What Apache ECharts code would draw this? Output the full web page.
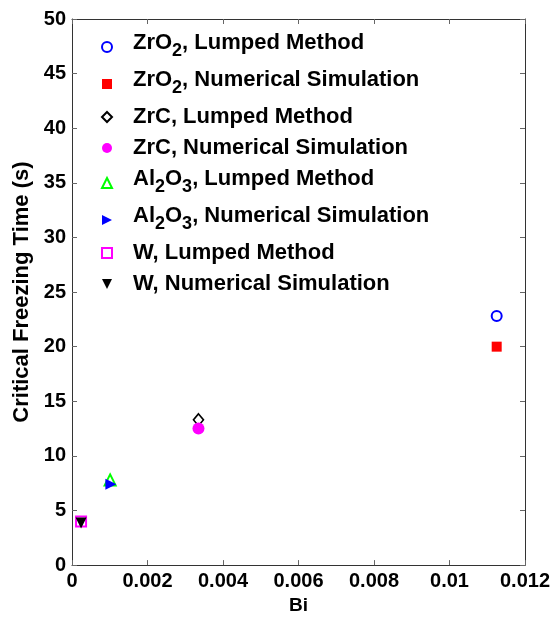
<!DOCTYPE html>
<html>
<head>
<meta charset="utf-8">
<script src="https://cdn.jsdelivr.net/npm/echarts@6/dist/echarts.min.js"></script>
<style>
  html, body { margin: 0; padding: 0; background: #fff; }
  #chart { width: 554px; height: 620px; }
</style>
</head>
<body>
<div id="chart"></div>
<script>
// series names (rich text for subscripts) and values [Bi, time]
const seriesNames = [
  '{g| }{b|ZrO}{s|2}{b|, Lumped Method}',
  '{g| }{b|ZrO}{s|2}{b|, Numerical Simulation}',
  '{g| }{b|ZrC, Lumped Method}',
  '{g| }{b|ZrC, Numerical Simulation}',
  '{g| }{b|Al}{s|2}{b|O}{s|3}{b|, Lumped Method}',
  '{g| }{b|Al}{s|2}{b|O}{s|3}{b|, Numerical Simulation}',
  '{g| }{b|W, Lumped Method}',
  '{g| }{b|W, Numerical Simulation}'
]
const zro2Lumped = [[0.01125, 22.8]]
const zro2Numerical = [[0.01125, 20.0]]
const zrcLumped = [[0.00335, 13.3]]
const zrcNumerical = [[0.00335, 12.5]]
const al2o3Lumped = [[0.00101, 7.8]]
const al2o3Numerical = [[0.00103, 7.4]]
const wLumped = [[0.00024, 4.0]]
const wNumerical = [[0.00024, 3.85]]
const xTicks = [0, 0.002, 0.004, 0.006, 0.008, 0.01, 0.012]

const chart = echarts.init(document.getElementById('chart'))
const FONT = '"Liberation Sans", Arial, sans-serif'
const AXIS_COLOR = '#333'

const TRI_RIGHT = 'path://M0,0 L10,5 L0,10 Z'
const TRI_DOWN = 'path://M0,0 L10,0 L5,10 Z'

// marker styles per series
const styles = [
  { data: zro2Lumped, symbol: 'circle', size: 10, color: '#fff', border: '#0000ff', bw: 2 },
  { data: zro2Numerical, symbol: 'rect', size: 10, color: '#ff0000', border: '#ff0000', bw: 0 },
  { data: zrcLumped, symbol: 'diamond', size: [10, 12], color: '#fff', border: '#000', bw: 1.6 },
  { data: zrcNumerical, symbol: 'circle', size: 12, color: '#ff00ff', border: '#ff00ff', bw: 0 },
  { data: al2o3Lumped, symbol: 'triangle', size: 11, color: '#fff', border: '#00ff00', bw: 2 },
  { data: al2o3Numerical, symbol: TRI_RIGHT, size: 11, color: '#0000ff', border: '#0000ff', bw: 0 },
  { data: wLumped, symbol: 'rect', size: 10, color: '#fff', border: '#ff00ff', bw: 2 },
  { data: wNumerical, symbol: TRI_DOWN, size: 11, color: '#000', border: '#000', bw: 0 }
]

const baseAxisLine = { show: true, onZero: false, lineStyle: { color: AXIS_COLOR, width: 1 } }
const tickStyle = { show: true, inside: true, length: 5, lineStyle: { color: '#666' } }
const labelStyle = { fontFamily: FONT, fontWeight: 'bold', fontSize: 20, color: '#000' }

const option = {
  backgroundColor: '#fff',
  animation: false,
  grid: { left: 72, right: 29, top: 19, bottom: 54, containLabel: false },
  legend: {
    orient: 'vertical',
    left: 96,
    top: 27,
    itemWidth: 10,
    itemHeight: 10,
    itemGap: 9,
    data: seriesNames.map((n, i) => ({ name: n, icon: styles[i].symbol })),
    formatter: (name) => name,
    textStyle: {
      rich: {
        g: { width: 16, fontSize: 22, verticalAlign: 'top' },
        b: { fontFamily: FONT, fontWeight: 'bold', fontSize: 22, color: '#000', verticalAlign: 'top' },
        s: { fontFamily: FONT, fontWeight: 'bold', fontSize: 18, color: '#000', verticalAlign: 'top', padding: [10, 0, 2, 0] }
      }
    }
  },
  xAxis: [
    {
      type: 'value', min: 0, max: 0.012, interval: 0.002,
      name: 'Bi', nameLocation: 'middle', nameGap: 30,
      nameTextStyle: { fontFamily: FONT, fontWeight: 'bold', fontSize: 19, color: '#000' },
      axisLine: baseAxisLine, axisTick: tickStyle, splitLine: { show: false },
      axisLabel: Object.assign({}, labelStyle, {
        margin: 6,
        formatter: (v) => {
          const t = xTicks.find(k => Math.abs(k - v) < 1e-9)
          return t === undefined ? '' : String(t)
        }
      })
    },
    {
      type: 'value', position: 'top', min: 0, max: 0.012, interval: 0.002,
      axisLine: baseAxisLine, axisTick: tickStyle, axisLabel: { show: false }, splitLine: { show: false }
    }
  ],
  yAxis: [
    {
      type: 'value', min: 0, max: 50, interval: 5,
      name: 'Critical Freezing Time (s)', nameLocation: 'middle', nameGap: 38,
      nameTextStyle: { fontFamily: FONT, fontWeight: 'bold', fontSize: 22, color: '#000' },
      axisLine: baseAxisLine, axisTick: tickStyle, splitLine: { show: false },
      axisLabel: Object.assign({}, labelStyle, { margin: 6 })
    },
    {
      type: 'value', position: 'right', min: 0, max: 50, interval: 5,
      axisLine: baseAxisLine, axisTick: tickStyle, axisLabel: { show: false }, splitLine: { show: false }
    }
  ],
  series: styles.map((s, i) => ({
    name: seriesNames[i],
    type: 'scatter',
    data: s.data,
    symbol: s.symbol,
    symbolSize: s.size,
    itemStyle: { color: s.color, borderColor: s.border, borderWidth: s.bw, opacity: 1 },
    emphasis: { disabled: true }
  }))
}
chart.setOption(option)
</script>
</body>
</html>
